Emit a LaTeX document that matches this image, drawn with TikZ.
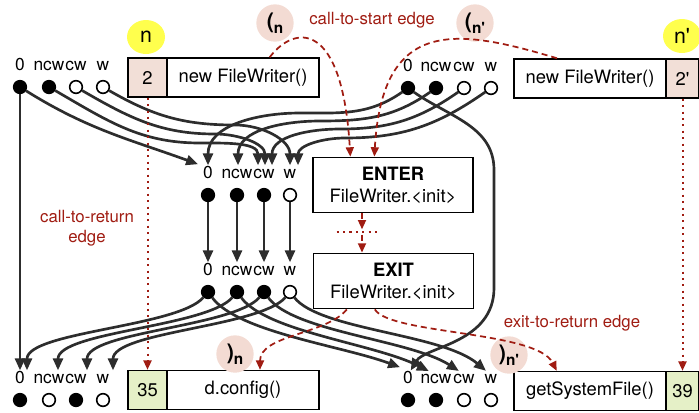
\documentclass[tikz,border=0pt]{standalone}
\usepackage{fontspec}
\setmainfont{TeX Gyre Heros}
\usetikzlibrary{arrows.meta, positioning, backgrounds, shapes.geometric}

\definecolor{edgered}{RGB}{160,28,18}
\definecolor{flowgray}{RGB}{45,45,45}
\definecolor{parenpink}{RGB}{243,219,211}
\definecolor{cellpink}{RGB}{242,223,215}
\definecolor{cellgreen}{RGB}{229,240,199}
\definecolor{sidyellow}{RGB}{255,255,77}

\newcommand{\stmtfont}{\fontsize{13.8}{16.5}\selectfont}
\newcommand{\factfont}{\fontsize{13}{14}\selectfont}
\newcommand{\notefont}{\fontsize{12.6}{15}\selectfont}
\newcommand{\callmark}[2]{{\fontsize{16}{16}\selectfont\bfseries #1}\raisebox{-4pt}{\fontsize{11.5}{11.5}\selectfont\bfseries #2}}

\begin{document}
\begin{tikzpicture}[x=0.75pt, y=-0.75pt,
        hasfact/.style={circle, draw, line width=1.2pt, fill=black, minimum size=9.5pt, inner sep=0pt},
        nofact/.style={hasfact, fill=white},
        fact/.style={font=\factfont, inner sep=0pt, text height=9pt, text depth=0pt},
        numcell/.style={draw, line width=1.1pt, minimum height=29.25pt, inner sep=0pt, font=\stmtfont},
        stmt/.style={numcell, fill=white, minimum width=114pt},
        procbox/.style={draw, line width=1.1pt, fill=white, minimum width=120pt, minimum height=41.5pt, align=center, font=\stmtfont},
        sid/.style={ellipse, fill=sidyellow, minimum width=28.5pt, minimum height=25.5pt, inner sep=0pt, font=\fontsize{16}{16}\selectfont},
        paren/.style={circle, fill=parenpink, minimum size=28pt, inner sep=0pt},
        note/.style={font=\notefont, text=edgered, align=center, inner sep=0pt},
        flow/.style={-{Triangle[length=9pt, width=7.5pt]}, line width=2pt, draw=flowgray, shorten >=1pt},
        ctrl/.style={-{Triangle[length=7pt, width=6pt]}, line width=1.3pt, draw=edgered, dash pattern=on 4.5pt off 3pt},
        seq/.style={ctrl, line width=1.5pt, dash pattern=on 1.6pt off 3.2pt},
        node distance=6.5pt
        ]
        \useasboundingbox (0,0) rectangle (699,412);

        % statements
        \node[numcell, fill=cellpink, minimum width=29.25pt] (n2) at (147.5,77.5) {2};
        \node[stmt] (newL) at (243,77.5) {new FileWriter()};
        \node[stmt] (newR) at (590,78.5) {new FileWriter()};
        \node[numcell, fill=cellpink, minimum width=24.75pt] (n2p) at (682.5,78.5) {2\textquotesingle};
        \node[numcell, fill=cellgreen, minimum width=29.25pt] (n35) at (147.5,390) {35};
        \node[stmt] (cfg) at (243,390) {d.config()};
        \node[stmt] (gsf) at (590,391) {getSystemFile()};
        \node[numcell, fill=cellgreen, minimum width=24.75pt] (n39) at (682.5,391) {39};
        \node[procbox] (enter) at (393,185) {\textbf{ENTER}\\FileWriter.<init>};
        \node[procbox] (exit) at (393.5,281) {\textbf{EXIT}\\FileWriter.<init>};

        % marks
        \node[sid] (sidn) at (146,37) {n};
        \node[sid] (sidnp) at (682,36) {n\textquotesingle};
        \node[paren] (openn) at (275,23) {\callmark{(}{n}};
        \node[paren] (opennp) at (475,23) {\callmark{(}{n\textquotesingle}};
        \node[paren] (closen) at (235,354) {\callmark{)}{n}};
        \node[paren] (closenp) at (509,355) {\callmark{)}{n\textquotesingle}};

        \node[note] (ctsnote) at (372,20) {call-to-start edge};
        \node[note] (ctrnote) at (87,228) {call-to-return\\edge};
        \node[note] (etrnote) at (572,323) {exit-to-return edge};

        % facts at the call in n
        \node[hasfact] (cl0) at (20,87) {};   \node[fact, above=of cl0] (cl0t) {0};
        \node[hasfact] (cl1) at (49,87) {};   \node[fact, above=of cl1] (cl1t) {ncw};
        \node[nofact] (cl2) at (76,87) {};    \node[fact, above=of cl2] (cl2t) {cw};
        \node[nofact] (cl3) at (103,87) {};   \node[fact, above=of cl3] (cl3t) {w};
        % facts at the call in n'
        \node[hasfact] (cr0) at (408,88) {};  \node[fact, above=of cr0] (cr0t) {0};
        \node[hasfact] (cr1) at (436,88) {};  \node[fact, above=of cr1] (cr1t) {ncw};
        \node[nofact] (cr2) at (464,88) {};   \node[fact, above=of cr2] (cr2t) {cw};
        \node[nofact] (cr3) at (491,88) {};   \node[fact, above=of cr3] (cr3t) {w};
        % facts at ENTER
        \node[hasfact] (en0) at (208,195) {}; \node[fact, above=of en0] (en0t) {0};
        \node[hasfact] (en1) at (237,195) {}; \node[fact, above=of en1] (en1t) {ncw};
        \node[hasfact] (en2) at (264,195) {}; \node[fact, above=of en2] (en2t) {cw};
        \node[nofact] (en3) at (290,195) {};  \node[fact, above=of en3] (en3t) {w};
        % facts at EXIT
        \node[hasfact] (ex0) at (208,292) {}; \node[fact, above=of ex0] (ex0t) {0};
        \node[hasfact] (ex1) at (237,292) {}; \node[fact, above=of ex1] (ex1t) {ncw};
        \node[hasfact] (ex2) at (264,292) {}; \node[fact, above=of ex2] (ex2t) {cw};
        \node[nofact] (ex3) at (290,292) {};  \node[fact, above=of ex3] (ex3t) {w};
        % facts at the return in n
        \node[hasfact] (rl0) at (20,400) {};  \node[fact, above=of rl0] (rl0t) {0};
        \node[nofact] (rl1) at (49,400) {};   \node[fact, above=of rl1] (rl1t) {ncw};
        \node[hasfact] (rl2) at (76,400) {};  \node[fact, above=of rl2] (rl2t) {cw};
        \node[nofact] (rl3) at (103,400) {};  \node[fact, above=of rl3] (rl3t) {w};
        % facts at the return in n'
        \node[hasfact] (rr0) at (408,400) {}; \node[fact, above=of rr0] (rr0t) {0};
        \node[hasfact] (rr1) at (436,400) {}; \node[fact, above=of rr1] (rr1t) {ncw};
        \node[nofact] (rr2) at (464,400) {};  \node[fact, above=of rr2] (rr2t) {cw};
        \node[nofact] (rr3) at (491,400) {};  \node[fact, above=of rr3] (rr3t) {w};

        \begin{scope}[on background layer]
        % call-to-return
        \draw[flow] (cl0) -- (rl0t);
        \draw[flow] (cr0) to[out=-35, in=90] ++(86,82) -- ++(0,118) .. controls +(0,55) and +(15,-25) .. ([xshift=1.5pt]rr0t.north);
        % call-to-start
        \draw[flow] (cl0) to[out=-32, in=160] ([xshift=-6.5pt, yshift=1.5pt]en0t.north);
        \draw[flow] (cl1) to[out=-30, in=180] ++(151,56) to[out=0, in=90] ([xshift=-4.5pt]en2t.north);
        \draw[flow] (cl2) to[out=-30, in=180] ++(139,47) to[out=0, in=90] ([xshift=0.75pt]en2t.north);
        \draw[flow] (cl3) to[out=-30, in=180] ++(132,38) to[out=0, in=90] (en3t.north);
        \draw[flow] (cr0) to[out=-145, in=0] ++(-108,25) to[out=180, in=90] (en0t.north);
        \draw[flow] (cr1) to[out=-145, in=0] ++(-116,33) to[out=180, in=90] ([xshift=0.75pt]en1t.north);
        \draw[flow] (cr2) to[out=-145, in=0] ++(-124,41) to[out=180, in=90] ([xshift=6pt]en2t.north);
        \draw[flow] (cr3) to[out=-145, in=0] ++(-146,50) to[out=180, in=90] ([xshift=6pt]en3t.north);
        % through the callee
        \draw[flow] (en0) -- (ex0t);
        \draw[flow] (en1) -- (ex1t);
        \draw[flow] (en2) -- (ex2t);
        \draw[flow] (en3) -- (ex3t);
        % exit-to-return
        \draw[flow] (ex0) .. controls +(-30,35) and +(0,-40) .. ([xshift=5.25pt]rl0t.north);
        \draw[flow] (ex1) .. controls +(-30,35) and +(0,-40) .. ([xshift=6.75pt]rl1t.north);
        \draw[flow] (ex2) .. controls +(-30,35) and +(0,-40) .. ([xshift=8.25pt]rl2t.north);
        \draw[flow] (ex3) .. controls +(-30,35) and +(0,-40) .. ([xshift=7.5pt]rl3t.north);
        \draw[flow] (ex0) .. controls +(30,40) and +(-60,-22) .. ([xshift=-5pt, yshift=3pt]rr0t.north);
        \draw[flow] (ex1) .. controls +(30,40) and +(-55,-28) .. ([xshift=-4.5pt]rr1t.north);
        \draw[flow] (ex2) .. controls +(30,40) and +(-50,-32) .. ([xshift=-3pt]rr2t.north);
        \draw[flow] (ex3) .. controls +(30,38) and +(-45,-38) .. ([xshift=-3pt]rr3t.north);
        \end{scope}

        % supergraph edges
        \draw[seq] (n2) -- (n35);
        \draw[seq] (n2p) -- (n39);
        \draw[ctrl] ([xshift=20pt]newL.north) .. controls +(25,-33) and +(-8,-137) .. ([xshift=-32pt]enter.north);
        \draw[ctrl] ([xshift=-24.75pt]newR.north) .. controls +(-100,-30) and +(8,-140) .. ([xshift=-14pt]enter.north);
        \coordinate (gap) at (362,232);
        \draw[ctrl] (enter.south -| gap) -- ([yshift=2pt]gap);
        \draw[seq, -] ([xshift=-19pt]gap) -- ([xshift=11pt]gap);
        \draw[ctrl] ([yshift=-2pt]gap) -- (exit.north -| gap);
        \draw[ctrl] ([xshift=-35pt]exit.south) .. controls +(-20,25) and +(0,-35) .. ([xshift=12.75pt]cfg.north);
        \draw[ctrl] ([xshift=-14pt]exit.south) .. controls +(15,25) and +(-20,-40) .. ([xshift=-25pt]gsf.north);
\end{tikzpicture}
\end{document}
